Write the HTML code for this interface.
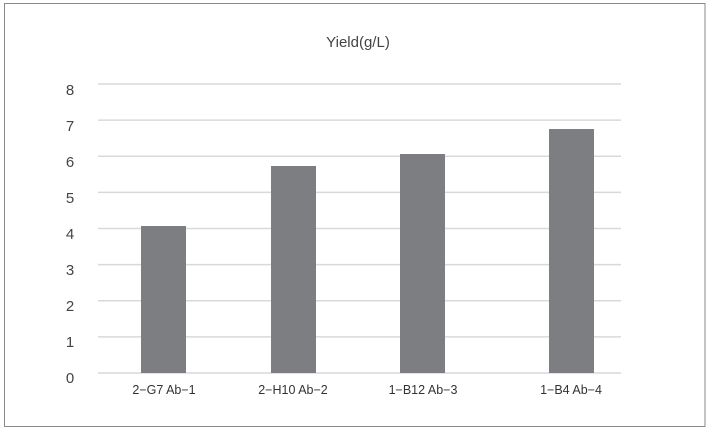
<!DOCTYPE html>
<html><head><style>
body{margin:0;background:#fff;}
svg{display:block;font-family:"Liberation Sans",Arial,sans-serif;}
</style></head><body>
<svg width="710" height="430" viewBox="0 0 710 430">
<rect x="4.5" y="3.5" width="700.5" height="423" fill="#fff" stroke="#8a8a8a" stroke-width="1"/>
<text x="358" y="47" font-size="15" fill="#444" text-anchor="middle">Yield(g/L)</text>
<g stroke="#d9d9d9" stroke-width="1.5">
<line x1="98" x2="621" y1="84" y2="84"/>
<line x1="98" x2="621" y1="120.1" y2="120.1"/>
<line x1="98" x2="621" y1="156.3" y2="156.3"/>
<line x1="98" x2="621" y1="192.4" y2="192.4"/>
<line x1="98" x2="621" y1="228.5" y2="228.5"/>
<line x1="98" x2="621" y1="264.6" y2="264.6"/>
<line x1="98" x2="621" y1="300.8" y2="300.8"/>
<line x1="98" x2="621" y1="336.9" y2="336.9"/>
<line x1="98" x2="621" y1="373" y2="373"/>
</g>
<g font-size="15" fill="#444" text-anchor="middle">
<text x="70" y="95">8</text><text x="70" y="131">7</text><text x="70" y="167">6</text>
<text x="70" y="203">5</text><text x="70" y="239">4</text><text x="70" y="275">3</text>
<text x="70" y="311">2</text><text x="70" y="347">1</text><text x="70" y="383">0</text>
</g>
<g fill="#7d7e82">
<rect x="141" y="226" width="45" height="147"/>
<rect x="271" y="166" width="45" height="207"/>
<rect x="400" y="154" width="45" height="219"/>
<rect x="549" y="129" width="45" height="244"/>
</g>
<g font-size="12.5" fill="#333" text-anchor="middle">
<text x="164" y="394">2−G7 Ab−1</text>
<text x="293" y="394">2−H10 Ab−2</text>
<text x="423" y="394">1−B12 Ab−3</text>
<text x="571" y="394">1−B4 Ab−4</text>
</g>
</svg>
</body></html>
